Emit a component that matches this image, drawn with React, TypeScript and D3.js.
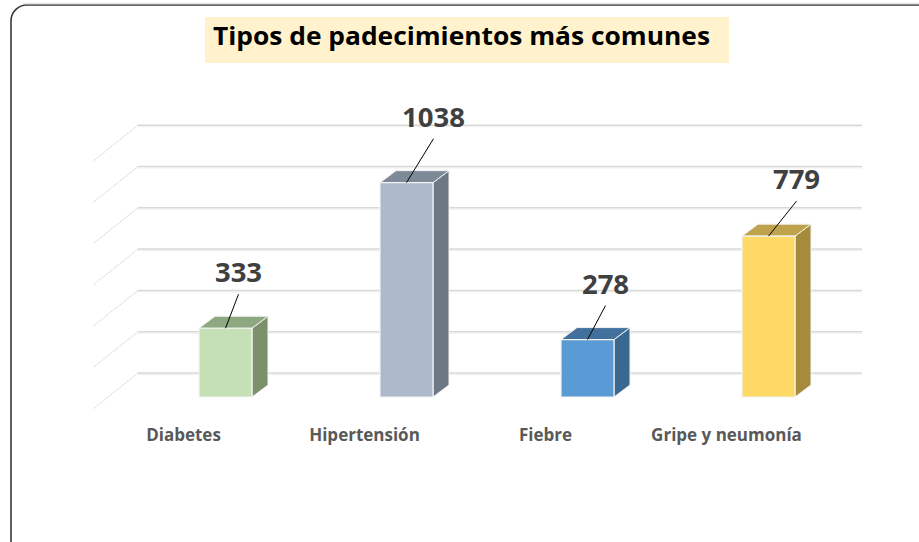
import React from "react";
import * as d3 from "d3";

// chart data
const categories = ["Diabetes", "Hipertensión", "Fiebre", "Gripe y neumonía"];
const values = [333, 1038, 278, 779];
const yTicks = [0, 200, 400, 600, 800, 1000, 1200];
const title = "Tipos de padecimientos más comunes";

// colours per bar: front, top, side
const frontColors = ["#C5E0B4", "#ADB9CA", "#5B9BD5", "#FFD966"];
const topColors = ["#8EA881", "#7F8A99", "#41719C", "#BFA24C"];
const sideColors = ["#7C9169", "#6E7784", "#3A6891", "#A68B3C"];

// manual label nudges (dx, lift above bar top), like the dragged Excel labels
const labelNudges = [
  [13, 46],
  [27, 56],
  [18, 46],
  [28, 47],
];

const W = 919;
const H = 542;

const App = () => {
  // back wall
  const wallLeft = 138;
  const wallRight = 862;
  const wallZero = 373;
  const depthDx = -45;
  const depthDy = 36;

  const y = d3.scaleLinear().domain([0, 1200]).range([0, 247.8]);
  const xLabel = d3.scaleBand().domain(categories).range([93, 817]);
  const xBar = d3.scaleBand().domain(categories).range([135, 859]);

  const barW = 53;
  const barDx = 16;
  const barDy = -12;
  const barBase = wallZero + (depthDy * 2) / 3;

  return (
    <svg
      width={W}
      height={H}
      style={{ position: "absolute", left: 0, top: 0, background: "#fff" }}
      fontFamily="'Open Sans', 'Noto Sans', sans-serif"
    >
      {/* frame */}
      <rect
        x={11}
        y={5}
        width={940}
        height={560}
        rx={16}
        fill="#fff"
        stroke="#3a3a3a"
        strokeWidth={1.6}
      />
      <line x1={24} x2={919} y1={3.5} y2={3.5} stroke="#e6e6e6" strokeWidth={1.5} />

      {/* title */}
      <rect x={205} y={17} width={524} height={46} fill="#FFF2CC" />
      <text
        x={461.5}
        y={45}
        textAnchor="middle"
        fontSize={25.5}
        fontWeight="bold"
        fill="#000"
        textLength={497}
        lengthAdjust="spacingAndGlyphs"
      >
        {title}
      </text>

      {/* gridlines on back wall and side wall */}
      <g>
        {yTicks.map((t) => {
          const gy = wallZero - y(t);
          return (
            <g key={t}>
              <line x1={wallLeft} x2={wallRight} y1={gy + 1.5} y2={gy + 1.5} stroke="#efefef" strokeWidth={1} />
              <line x1={wallLeft} x2={wallRight} y1={gy} y2={gy} stroke="#d9d9d9" strokeWidth={1.5} />
              <line
                x1={wallLeft}
                y1={gy}
                x2={wallLeft + depthDx}
                y2={gy + depthDy}
                stroke="#d4d4d4"
                strokeWidth={1}
                strokeDasharray="2 1"
              />
            </g>
          );
        })}
      </g>

      {/* bars */}
      {categories.map((c, i) => {
        const cx = (xBar(c) as number) + xBar.bandwidth() / 2;
        const x0 = cx - barW / 2;
        const x1 = cx + barW / 2;
        const top = barBase - y(values[i]);
        const frontPts = [
          [x0, top],
          [x1, top],
          [x1, barBase],
          [x0, barBase],
        ];
        const topPts = [
          [x0, top],
          [x1, top],
          [x1 + barDx, top + barDy],
          [x0 + barDx, top + barDy],
        ];
        const sidePts = [
          [x1, top],
          [x1 + barDx, top + barDy],
          [x1 + barDx, barBase + barDy],
          [x1, barBase],
        ];
        const pts = (p: number[][]) => p.map((d) => d.join(",")).join(" ");
        const [ndx, lift] = labelNudges[i];
        const lx = cx + ndx;
        const ly = top - lift;
        return (
          <g key={c}>
            <polygon points={pts(sidePts)} fill={sideColors[i]} stroke="#f2f2f2" strokeWidth={1} />
            <polygon points={pts(topPts)} fill={topColors[i]} stroke="#f2f2f2" strokeWidth={1} />
            <polygon points={pts(frontPts)} fill={frontColors[i]} stroke="#f4f4f4" strokeWidth={1.2} />
            <line x1={cx} y1={top} x2={lx} y2={ly + 12} stroke="#000" strokeWidth={1} />
            <text
              x={lx}
              y={ly}
              textAnchor="middle"
              fontSize={27.5}
              fontWeight="bold"
              fill="#404040"
            >
              {values[i]}
            </text>
          </g>
        );
      })}

      {/* category labels */}
      {categories.map((c) => (
        <text
          key={c}
          x={(xLabel(c) as number) + xLabel.bandwidth() / 2}
          y={441}
          textAnchor="middle"
          fontSize={17}
          fontWeight="bold"
          fill="#595959"
        >
          {c}
        </text>
      ))}
    </svg>
  );
};

export default App;
